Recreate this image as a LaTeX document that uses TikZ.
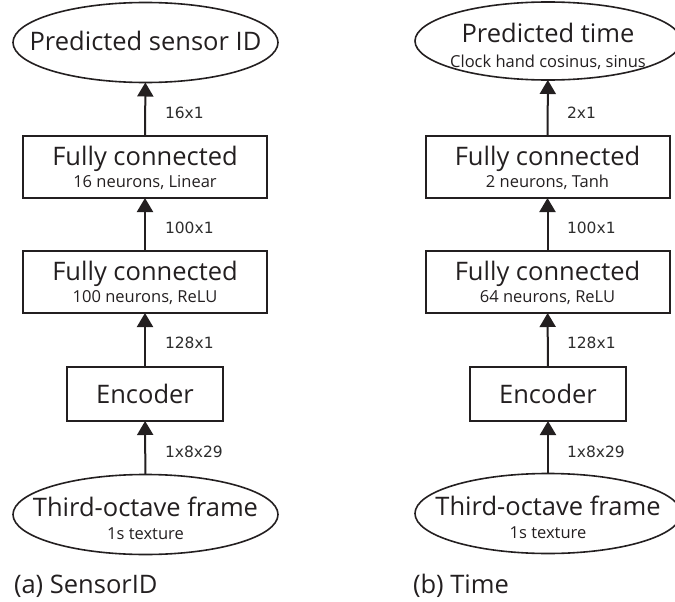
\documentclass[tikz,border=0pt]{standalone}
\usepackage{fontspec}
\setmainfont{Open Sans}
\newfontfamily\dimfont{DejaVu Sans}
\usetikzlibrary{arrows.meta,shapes.geometric}
\definecolor{ink}{RGB}{35,31,32}
\definecolor{dimgray}{RGB}{45,45,45}
\begin{document}
\begin{tikzpicture}[x=1pt,y=-1pt,
  every node/.style={inner sep=0pt, outer sep=0pt, text=ink},
  box/.style={draw=ink, line width=2pt, rectangle, minimum width=244pt, minimum height=62pt},
  encbox/.style={draw=ink, line width=2pt, rectangle, minimum width=156pt, minimum height=54pt},
  oval/.style={draw=ink, line width=1.6pt, ellipse, minimum width=265pt, minimum height=80pt},
  flow/.style={draw=ink, line width=2pt, -{Triangle[length=14pt,width=16pt]}},
  big/.style={font=\fontsize{25.5}{25.5}\selectfont, anchor=base},
  small/.style={font=\fontsize{16.5}{16.5}\selectfont, anchor=base},
  dimlabel/.style={font=\dimfont\fontsize{15.5}{15.5}\selectfont, text=dimgray, anchor=west},
  captext/.style={font=\fontsize{25.5}{25.5}\selectfont, anchor=base west}
]
\useasboundingbox (0,0) rectangle (675,602);

% ---------- (a) SensorID ----------
\node[oval] (outa) at (145.5,42.5) {};
\node[big] (outat) at (145.5,51) {Predicted sensor ID};
\node[box] (f2a) at (145,167) {};
\node[big] (f2at) at (145,165) {Fully connected};
\node[small] (f2as) at (145,187) {16 neurons, Linear};
\node[box] (f1a) at (145,282) {};
\node[big] (f1at) at (145,280) {Fully connected};
\node[small] (f1as) at (145,302) {100 neurons, ReLU};
\node[encbox] (enca) at (145,394) {};
\node[big] (encat) at (145,403) {Encoder};
\node[oval] (ina) at (145.5,514.5) {};
\node[big] (inat) at (145.5,516) {Third-octave frame};
\node[small] (inas) at (145.5,539) {1s texture};

\draw[flow] (ina) -- (enca);
\draw[flow] (enca) -- (f1a);
\draw[flow] (f1a) -- (f2a);
\draw[flow] (f2a) -- (outa);

\node[dimlabel] (da4) at (165,452) {1x8x29};
\node[dimlabel] (da3) at (165,343) {128x1};
\node[dimlabel] (da2) at (165,228) {100x1};
\node[dimlabel] (da1) at (165,113) {16x1};

\node[captext] (capa) at (14,593) {(a) SensorID};

% ---------- (b) Time ----------
\node[oval, minimum width=266pt, minimum height=78pt] (outb) at (548,41) {};
\node[big] (outbt) at (548,43) {Predicted time};
\node[small] (outbs) at (548,67) {Clock hand cosinus, sinus};
\node[box] (f2b) at (547.5,167) {};
\node[big] (f2bt) at (547.5,165) {Fully connected};
\node[small] (f2bs) at (547.5,187) {2 neurons, Tanh};
\node[box] (f1b) at (547.5,282) {};
\node[big] (f1bt) at (547.5,280) {Fully connected};
\node[small] (f1bs) at (547.5,302) {64 neurons, ReLU};
\node[encbox] (encb) at (548,394) {};
\node[big] (encbt) at (548,403) {Encoder};
\node[oval, minimum width=266pt] (inb) at (548,513.5) {};
\node[big] (inbt) at (548,515) {Third-octave frame};
\node[small] (inbs) at (548,538) {1s texture};

\draw[flow] (inb) -- (encb);
\draw[flow] (encb) -- (f1b);
\draw[flow] (f1b) -- (f2b);
\draw[flow] (f2b) -- (outb);

\node[dimlabel] (db4) at (567,452) {1x8x29};
\node[dimlabel] (db3) at (567,343) {128x1};
\node[dimlabel] (db2) at (567,228) {100x1};
\node[dimlabel] (db1) at (567,113) {2x1};

\node[captext] (capb) at (413,593) {(b) Time};
\end{tikzpicture}
\end{document}
